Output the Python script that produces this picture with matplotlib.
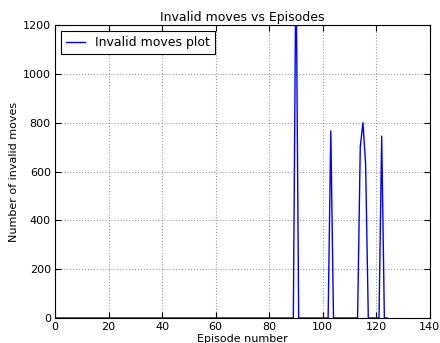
import matplotlib
matplotlib.use("Agg")
import matplotlib.pyplot as plt
import numpy as np

# episodes with non-zero invalid moves (all other episodes are 0)
n_episodes = 125
spike_episodes = [90, 103, 114, 115, 116, 122]
spike_values = [1500, 766, 700, 800, 630, 745]

episodes = np.arange(n_episodes)
invalid_moves = np.zeros(n_episodes)
invalid_moves[spike_episodes] = spike_values

fig = plt.figure(figsize=(4.4, 3.43), dpi=100)
ax = fig.add_axes([0.125, 0.073, 0.852, 0.854])

ax.plot(episodes, invalid_moves, color="b", linewidth=1.0, label="Invalid moves plot")

ax.set_xlim(0, 140)
ax.set_ylim(0, 1200)
ax.set_xticks(np.arange(0, 141, 20))
ax.set_yticks(np.arange(0, 1201, 200))
ax.tick_params(direction="in", top=True, right=True, labelsize=8, length=4, pad=3)
ax.grid(True, linestyle=":", color="#999999", linewidth=0.8)

ax.set_title("Invalid moves vs Episodes", fontsize=9, pad=3)
ax.set_xlabel("Episode number", fontsize=8, labelpad=1)
ax.set_ylabel("Number of invalid moves", fontsize=8, labelpad=3)

leg = ax.legend(loc="upper left", fontsize=9, fancybox=False, framealpha=1,
                edgecolor="black", handlelength=1.5, borderpad=0.4)
leg.get_frame().set_linewidth(0.8)

fig.savefig("out.png", dpi=100)
